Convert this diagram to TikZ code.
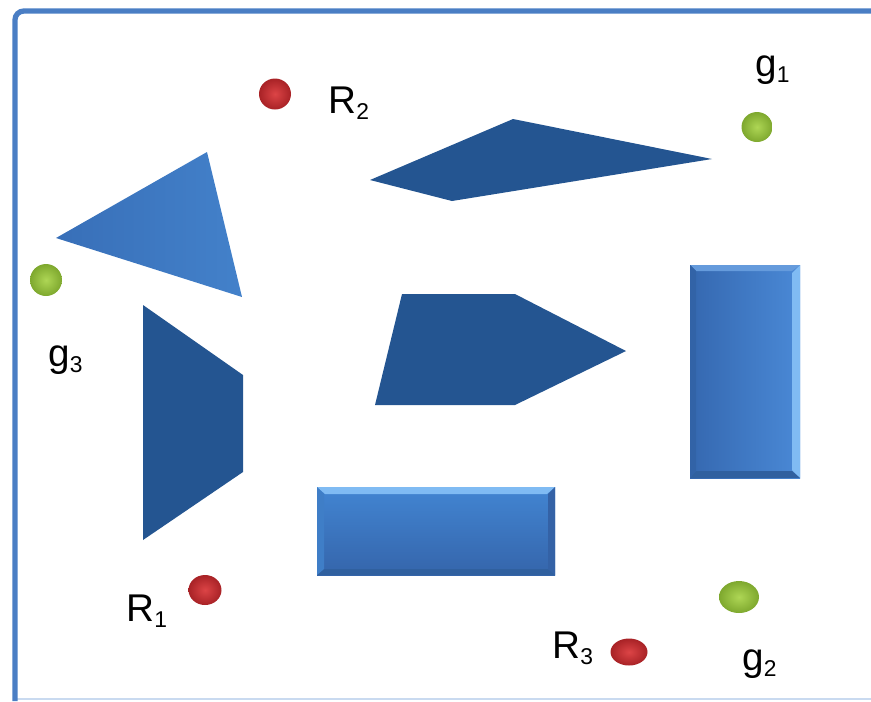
\documentclass[tikz,border=0pt]{standalone}
\usepackage{fontspec}
\setmainfont{Liberation Sans}
\usetikzlibrary{shapes.geometric}
\definecolor{frameblue}{HTML}{4A7EC4}
\definecolor{framefaint}{HTML}{C9DAF0}
\definecolor{obsdark}{HTML}{245591}
\definecolor{trilight}{HTML}{4381CA}
\definecolor{tridark}{HTML}{386FB8}
\definecolor{boxleft}{HTML}{3568B0}
\definecolor{boxright}{HTML}{4A89D6}
\definecolor{boxtop}{HTML}{4285D2}
\definecolor{boxbottom}{HTML}{3565AB}
\definecolor{bevellight}{HTML}{80BBF3}
\definecolor{beveldark}{HTML}{30609F}
\definecolor{redin}{HTML}{DC4446}
\definecolor{redout}{HTML}{A82226}
\definecolor{greenin}{HTML}{AED655}
\definecolor{greenout}{HTML}{7EA82E}
\newcommand{\lowidx}[1]{\raisebox{-3.5pt}{\fontsize{13}{13}\selectfont #1}}

\begin{document}
\begin{tikzpicture}[x=0.02cm, y=-0.02cm,
  obstacle/.style={fill=obsdark, draw=none},
  ball/.style={ellipse, inner sep=0pt, draw=none, shading=radial},
  robot/.style={ball, inner color=redin, outer color=redout},
  goal/.style={ball, inner color=greenin, outer color=greenout},
  tag/.style={anchor=base west, inner sep=0pt, font=\fontsize{22}{26}\selectfont}
]
 \useasboundingbox (0,0) rectangle (871,701);

 % Workspace frame
 \draw[framefaint, line width=1.2pt] (15,699) -- (871,699);
 \draw[frameblue, line width=3pt, rounded corners=5pt] (871,11) -- (15,11) -- (15,701);

 % Obstacles
 \path[left color=tridark, right color=trilight] (56,238) -- (207,152) -- (242,297) -- cycle;
 \path[obstacle] (143,305) -- (243,375) -- (243,472) -- (143,540) -- cycle;
 \path[obstacle] (370,180) -- (513,119) -- (712,159) -- (452,201) -- cycle;
 \path[obstacle] (402,294) -- (515,294) -- (626,351) -- (515,405) -- (375,405) -- cycle;

 % Vertical box
 \path[left color=boxleft, right color=boxright] (690,265) rectangle (800,478);
 \fill[bevellight] (792,273) -- (800,265) -- (800,478) -- (792,470) -- cycle;
 \fill[boxright!85!white] (690,265) -- (800,265) -- (792,271) -- (696,271) -- cycle;
 \fill[beveldark] (696,471) -- (792,471) -- (800,478) -- (690,478) -- cycle;
 \fill[boxleft!95!black] (690,265) -- (696,271) -- (696,471) -- (690,478) -- cycle;

 % Horizontal box
 \path[top color=boxtop, bottom color=boxbottom] (317,487) rectangle (555,575);
 \fill[bevellight] (317,487) -- (555,487) -- (547,494) -- (325,494) -- cycle;
 \fill[beveldark] (324,569) -- (548,569) -- (555,575) -- (317,575) -- cycle;
 \fill[boxbottom!97!black] (548,494) -- (555,487) -- (555,575) -- (548,569) -- cycle;
 \fill[boxtop!95!black] (317,487) -- (324,494) -- (324,569) -- (317,575) -- cycle;

 % Robots
 \node[robot, minimum width=0.66cm, minimum height=0.6cm] (R1) at (205,590) {};
 \node[robot, minimum width=0.64cm, minimum height=0.62cm] (R2) at (275,94) {};
 \node[robot, minimum width=0.74cm, minimum height=0.54cm] (R3) at (629,652) {};
 \node[tag] (R1tag) at (126,621) {R\lowidx{1}};
 \node[tag] (R2tag) at (328,113) {R\lowidx{2}};
 \node[tag] (R3tag) at (552,658) {R\lowidx{3}};

 % Goals
 \node[goal, minimum width=0.62cm, minimum height=0.6cm] (g1) at (757,127) {};
 \node[goal, minimum width=0.8cm, minimum height=0.64cm] (g2) at (739,597) {};
 \node[goal, minimum width=0.64cm, minimum height=0.64cm] (g3) at (46,280) {};
 \node[tag] (g1tag) at (755,76) {g\lowidx{1}};
 \node[tag] (g2tag) at (742,670) {g\lowidx{2}};
 \node[tag] (g3tag) at (48,366) {g\lowidx{3}};
\end{tikzpicture}
\end{document}
